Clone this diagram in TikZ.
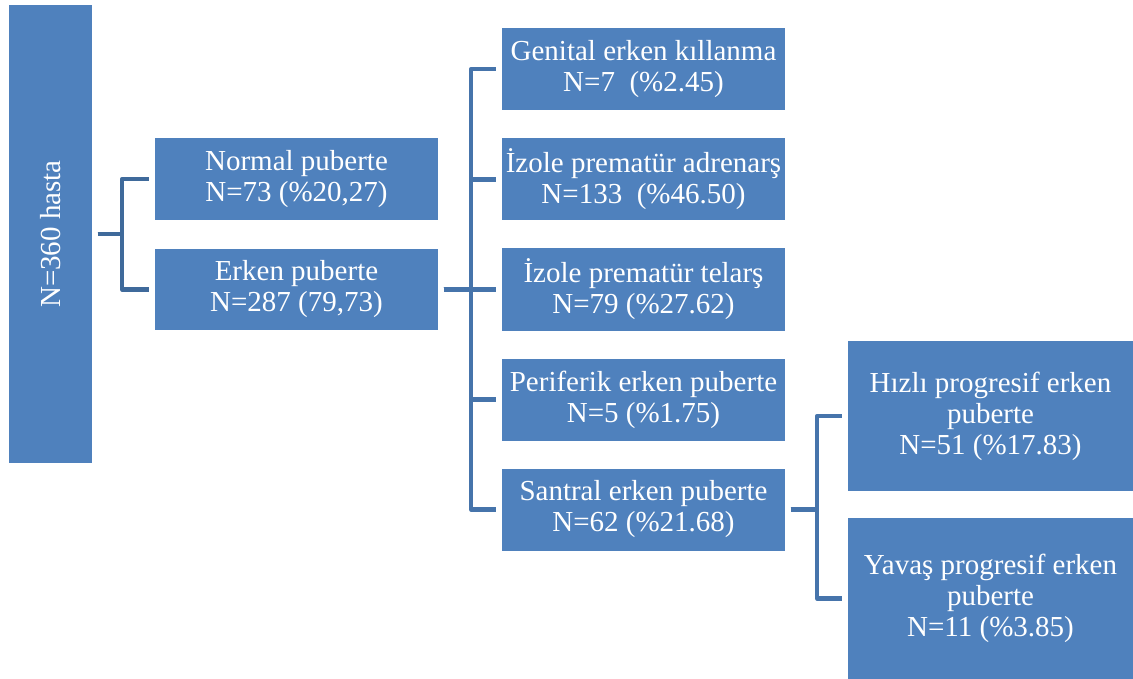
\documentclass[tikz,border=0pt]{standalone}
\usepackage{fontspec}
\setmainfont{Liberation Serif}
\definecolor{boxblue}{HTML}{4F81BD}
\definecolor{connA}{HTML}{3F6A9B}
\definecolor{connB}{HTML}{4674AB}
\begin{document}
\begin{tikzpicture}[x=1pt,y=-1pt,
  box/.style={rectangle, fill=boxblue, draw=none, inner sep=0pt, text=white, align=center,
    font=\fontsize{29}{31}\selectfont},
  conn/.style={line width=4.5pt, line join=round, shorten <=5.5pt, shorten >=5.5pt},
]
\useasboundingbox (0,0) rectangle (1133,679);
% root
\node[box, minimum width=83pt, minimum height=458pt] (root) at (50.5,234) {};
\node[rotate=90, text=white, font=\fontsize{29}{31}\selectfont, inner sep=0pt] (rootlabel) at (root.center) {N=360 hasta};
% level 1
\node[box, minimum width=283pt, minimum height=82pt] (normal) at (296.5,179) {Normal puberte\\N=73 (\%20,27)};
\node[box, minimum width=283pt, minimum height=81pt] (erken) at (296.5,289.5) {Erken puberte\\N=287 (79,73)};
% level 2
\node[box, minimum width=283pt, minimum height=82pt] (genital) at (643.5,69) {Genital erken kıllanma\\N=7\ \ (\%2.45)};
\node[box, minimum width=283pt, minimum height=82pt] (adrenars) at (643.5,179.5) {İzole prematür adrenarş\\N=133\ \ (\%46.50)};
\node[box, minimum width=283pt, minimum height=82pt] (telars) at (643.5,289.5) {İzole prematür telarş\\N=79 (\%27.62)};
\node[box, minimum width=283pt, minimum height=82pt] (periferik) at (643.5,399.5) {Periferik erken puberte\\N=5 (\%1.75)};
\node[box, minimum width=283pt, minimum height=82pt] (santral) at (643.5,509.5) {Santral erken puberte\\N=62 (\%21.68)};
% level 3
\node[box, minimum width=285pt, minimum height=150pt] (hizli) at (990.5,416) {Hızlı progresif erken\\puberte\\N=51 (\%17.83)};
\node[box, minimum width=285pt, minimum height=161pt] (yavas) at (990.5,598.5) {Yavaş progresif erken\\puberte\\N=11 (\%3.85)};
% connectors
\foreach \c in {normal,erken}
  \draw[conn, draw=connA] (root.east) -- ++(30,0) |- (\c.west);
\foreach \c in {genital,adrenars,telars,periferik,santral}
  \draw[conn, draw=connB] (erken.east) -- ++(33,0) |- (\c.west);
\foreach \c in {hizli,yavas}
  \draw[conn, draw=connB] (santral.east) -- ++(32,0) |- (\c.west);
\end{tikzpicture}
\end{document}
